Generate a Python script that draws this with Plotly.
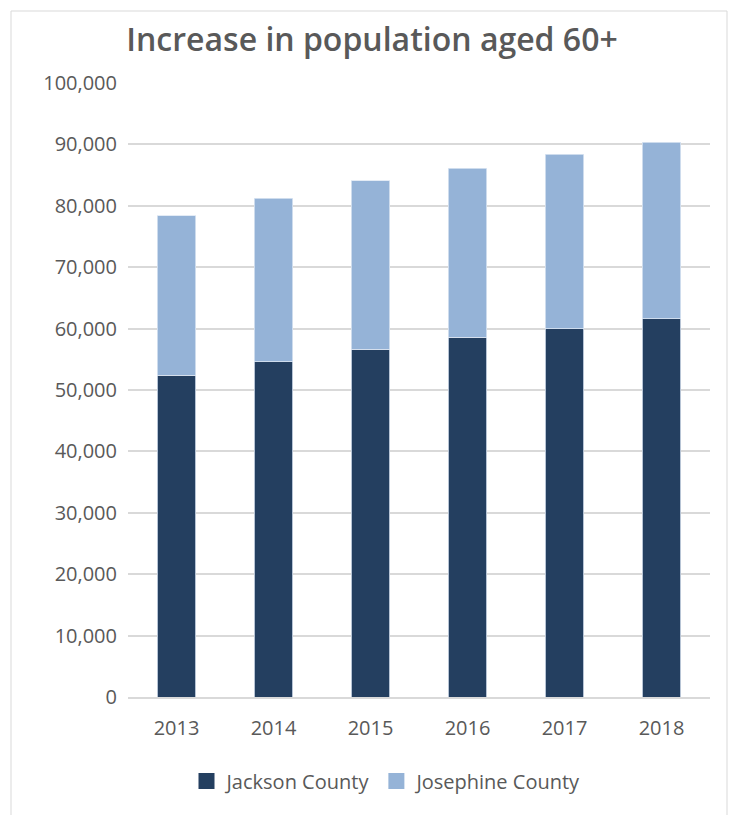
import plotly.graph_objects as go

years = ["2013", "2014", "2015", "2016", "2017", "2018"]
jackson = [52400, 54600, 56600, 58600, 60000, 61600]
josephine = [26000, 26650, 27500, 27550, 28400, 28750]
y_ticks = [0, 10000, 20000, 30000, 40000, 50000, 60000, 70000, 80000, 90000, 100000]

series_names = ["Jackson County", "Josephine County"]
series_colors = ["#243F60", "#95B3D7"]

W, H = 733, 815
L, R, T, B = 128, 23, 83, 118
pw, ph = W - L - R, H - T - B

def px_x(x):
    return (x - L) / pw

def px_y(y):
    return (H - B - y) / ph

fig = go.Figure()
for vals, name, col in zip([jackson, josephine], series_names, series_colors):
    fig.add_trace(go.Bar(x=years, y=vals, name=name, showlegend=False,
                         marker=dict(color=col, line=dict(color="#DCE6F2", width=0.8))))
# legend entries with larger square swatches
for name, col in zip(series_names, series_colors):
    fig.add_trace(go.Scatter(x=[None], y=[None], mode="markers", name=name,
                             marker=dict(symbol="square", size=18, color=col)))

fig.update_layout(
    width=W, height=H,
    barmode="stack", bargap=0.6,
    margin=dict(l=L, r=R, t=T, b=B),
    paper_bgcolor="white", plot_bgcolor="white",
    font=dict(family="Open Sans", color="#595959", size=20),
    title=dict(text="Increase in population aged 60+", x=372 / W, xanchor="center",
               y=1 - 40 / H, yanchor="middle", yref="container",
               font=dict(family="Open Sans", size=32, color="#595959", weight=600)),
    showlegend=True,
    legend=dict(orientation="h", x=px_x(387), xanchor="center", y=px_y(781), yanchor="middle",
                font=dict(size=20, color="#595959"), traceorder="normal",
                itemwidth=30, tracegroupgap=0),
    xaxis=dict(showgrid=False, showline=True, linecolor="#D9D9D9", linewidth=1.5,
               ticks="", ticklabelstandoff=12, tickfont=dict(size=20, color="#595959")),
    yaxis=dict(range=[0, 100000], tickvals=y_ticks, tickformat=",", showgrid=True,
               gridcolor="#D9D9D9", gridwidth=1.5, zeroline=False, ticks="",
               ticklabelstandoff=10, tickfont=dict(size=20, color="#595959")),
    shapes=[dict(type="rect", xref="paper", yref="paper",
                 x0=px_x(11), x1=px_x(727), y0=px_y(830), y1=px_y(11),
                 line=dict(color="#D9D9D9", width=1), fillcolor="rgba(0,0,0,0)", layer="below")],
)

fig.write_html("out.html")
